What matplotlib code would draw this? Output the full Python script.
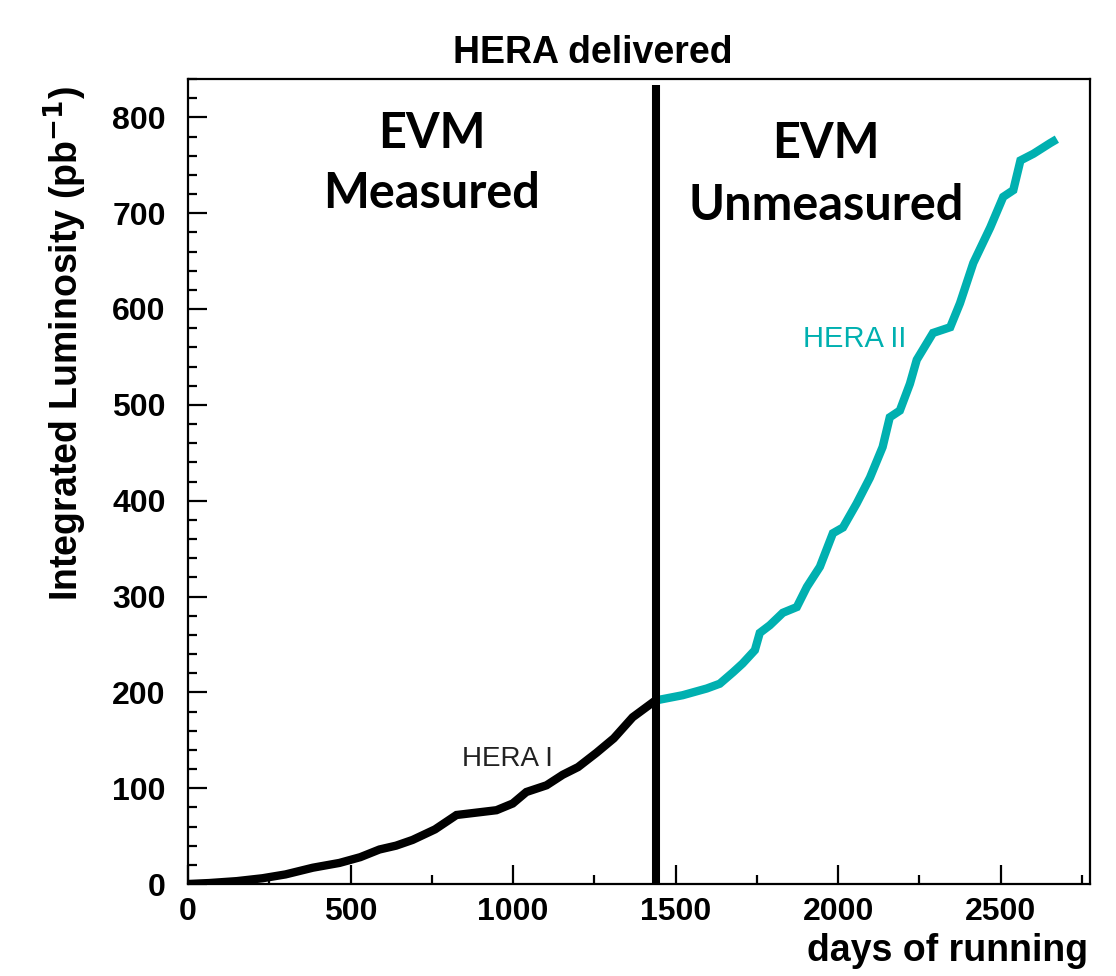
import matplotlib
matplotlib.use("Agg")
import matplotlib.pyplot as plt
from matplotlib.ticker import MultipleLocator

# ---- data ----
hera1_days = [0, 65, 150, 229, 300, 384, 466, 530, 589, 640, 691, 760, 826, 900,
              949, 999, 1041, 1103, 1153, 1200, 1257, 1310, 1368, 1420, 1440]
hera1_lumi = [0, 1, 3, 6, 10, 17, 22, 28, 36, 40, 46, 57, 72, 75,
              77, 84, 96, 103, 114, 122, 137, 152, 174, 187, 192]

hera2_days = [1446, 1522, 1596, 1636, 1677, 1706, 1744, 1759, 1790, 1830, 1873,
              1904, 1944, 1984, 2015, 2057, 2098, 2137, 2159, 2190, 2221, 2242,
              2292, 2345, 2375, 2416, 2468, 2508, 2539, 2561, 2601, 2652, 2662]
hera2_lumi = [192, 197, 204, 209, 221, 230, 244, 262, 270, 283, 289,
              310, 331, 366, 372, 397, 424, 456, 487, 494, 522, 547,
              575, 581, 606, 648, 685, 717, 724, 755, 762, 773, 775]

boundary_day = 1440
boundary_top = 834

x_ticks = [0, 500, 1000, 1500, 2000, 2500]
y_ticks = [0, 100, 200, 300, 400, 500, 600, 700, 800]

CYAN = "#00b0b0"
W, H = 1116, 976

fig = plt.figure(figsize=(W / 100, H / 100), dpi=100)
ax = fig.add_axes([188 / W, 92 / H, 902 / W, 805 / H])

ax.plot(hera1_days, hera1_lumi, color="black", lw=6, solid_joinstyle="miter")
ax.plot(hera2_days, hera2_lumi, color=CYAN, lw=6, solid_joinstyle="miter")
ax.plot([boundary_day, boundary_day], [0, boundary_top], color="black", lw=5.8,
        solid_capstyle="butt")

ax.set_xlim(0, 2775)
ax.set_ylim(0, 840)
ax.set_xticks(x_ticks)
ax.set_yticks(y_ticks)
ax.xaxis.set_minor_locator(MultipleLocator(250))
ax.yaxis.set_minor_locator(MultipleLocator(20))
ax.tick_params(which="both", direction="in", top=False, right=False,
               width=1.6, color="black")
ax.tick_params(which="major", length=13.5)
ax.tick_params(which="minor", length=6.5)
ax.tick_params(axis="x", which="major", pad=9)
ax.tick_params(axis="y", which="major", pad=16)
for lab in ax.get_xticklabels() + ax.get_yticklabels():
    lab.set_fontfamily("Liberation Sans")
    lab.set_fontweight("bold")
    lab.set_fontsize(23)
for s in ax.spines.values():
    s.set_linewidth(1.6)

# title and axis labels
fig.text(593 / W, 1 - 63 / H, "HERA delivered", ha="center", va="baseline",
         fontsize=27, fontweight="bold", family="Liberation Sans")
fig.text(65 / W, 1 - 86 / H, r"Integrated Luminosity (pb$^{\mathbf{-1}}$)",
         rotation=90, ha="center", va="top", fontsize=27, fontweight="bold",
         family="Liberation Sans")
fig.text(1088 / W, 1 - 961 / H, "days of running", ha="right", va="baseline",
         fontsize=27, fontweight="bold", family="Liberation Sans")

# curve labels
ax.text(843, 123, "HERA I", fontsize=20, color="#222222", family="Liberation Sans",
        ha="left", va="baseline")
ax.text(1893, 560, "HERA II", fontsize=21, color=CYAN, family="Liberation Sans",
        ha="left", va="baseline")

# EVM annotations
kw = dict(ha="center", va="baseline", fontsize=35, fontweight="bold", family="Lato")
fig.text(432 / W, 1 - 148 / H, "EVM", **kw)
fig.text(432 / W, 1 - 208 / H, "Measured", **kw)
fig.text(826 / W, 1 - 158 / H, "EVM", **kw)
fig.text(826 / W, 1 - 220 / H, "Unmeasured", **kw)

fig.savefig("out.png", dpi=100)
